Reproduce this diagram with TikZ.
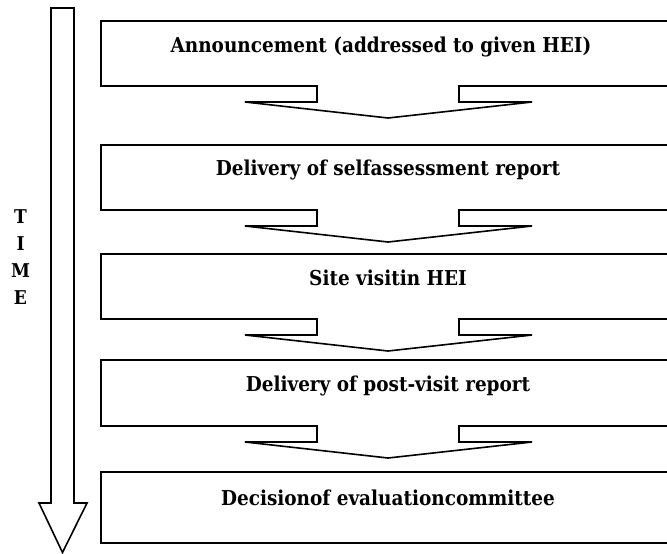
\documentclass[tikz,border=0pt]{standalone}
\usepackage{fontspec}
\setmainfont{DejaVu Serif Condensed}
\begin{document}
\begin{tikzpicture}[x=1pt,y=-1pt,
  outl/.style={draw=black,line width=1.6pt,line join=miter,fill=white},
  lbl/.style={font=\bfseries\fontsize{20.5}{24}\selectfont,anchor=center,inner sep=0pt},
  timel/.style={font=\bfseries\fontsize{19}{22}\selectfont,anchor=center,inner sep=0pt}]
\useasboundingbox (0,0) rectangle (667,554);
\clip (0,0) rectangle (667,554);
% time arrow
\draw[outl] (51,8) -- (74,8) -- (74,503) -- (87,503) -- (62.5,552.5) -- (39,503) -- (51,503) -- cycle;
\node[timel] (tT) at (20.5,217) {T};
\node[timel] (tI) at (20.5,244) {I};
\node[timel] (tM) at (20.5,271) {M};
\node[timel] (tE) at (20.5,298) {E};
% boxes with notched arrows
\foreach \t/\b in {21/86, 145/210, 254/319, 360/426}{
  \draw[outl] (101,\t) -- (670,\t) -- (670,\b) -- (459,\b) -- (459,\b+16) -- (532,\b+16)
    -- (388,\b+32) -- (245,\b+16) -- (317,\b+16) -- (317,\b) -- (101,\b) -- cycle;
}
\draw[outl] (101,472) -- (670,472) -- (670,543) -- (101,543) -- cycle;
\node[lbl] (b1) at (381,47) {Announcement (addressed to given HEI)};
\node[lbl] (b2) at (388,170) {Delivery of selfassessment report};
\node[lbl] (b3) at (388,278) {Site visitin HEI};
\node[lbl] (b4) at (388,386) {Delivery of post-visit report};
\node[lbl] (b5) at (388,498) {Decisionof evaluationcommittee};
\end{tikzpicture}
\end{document}
